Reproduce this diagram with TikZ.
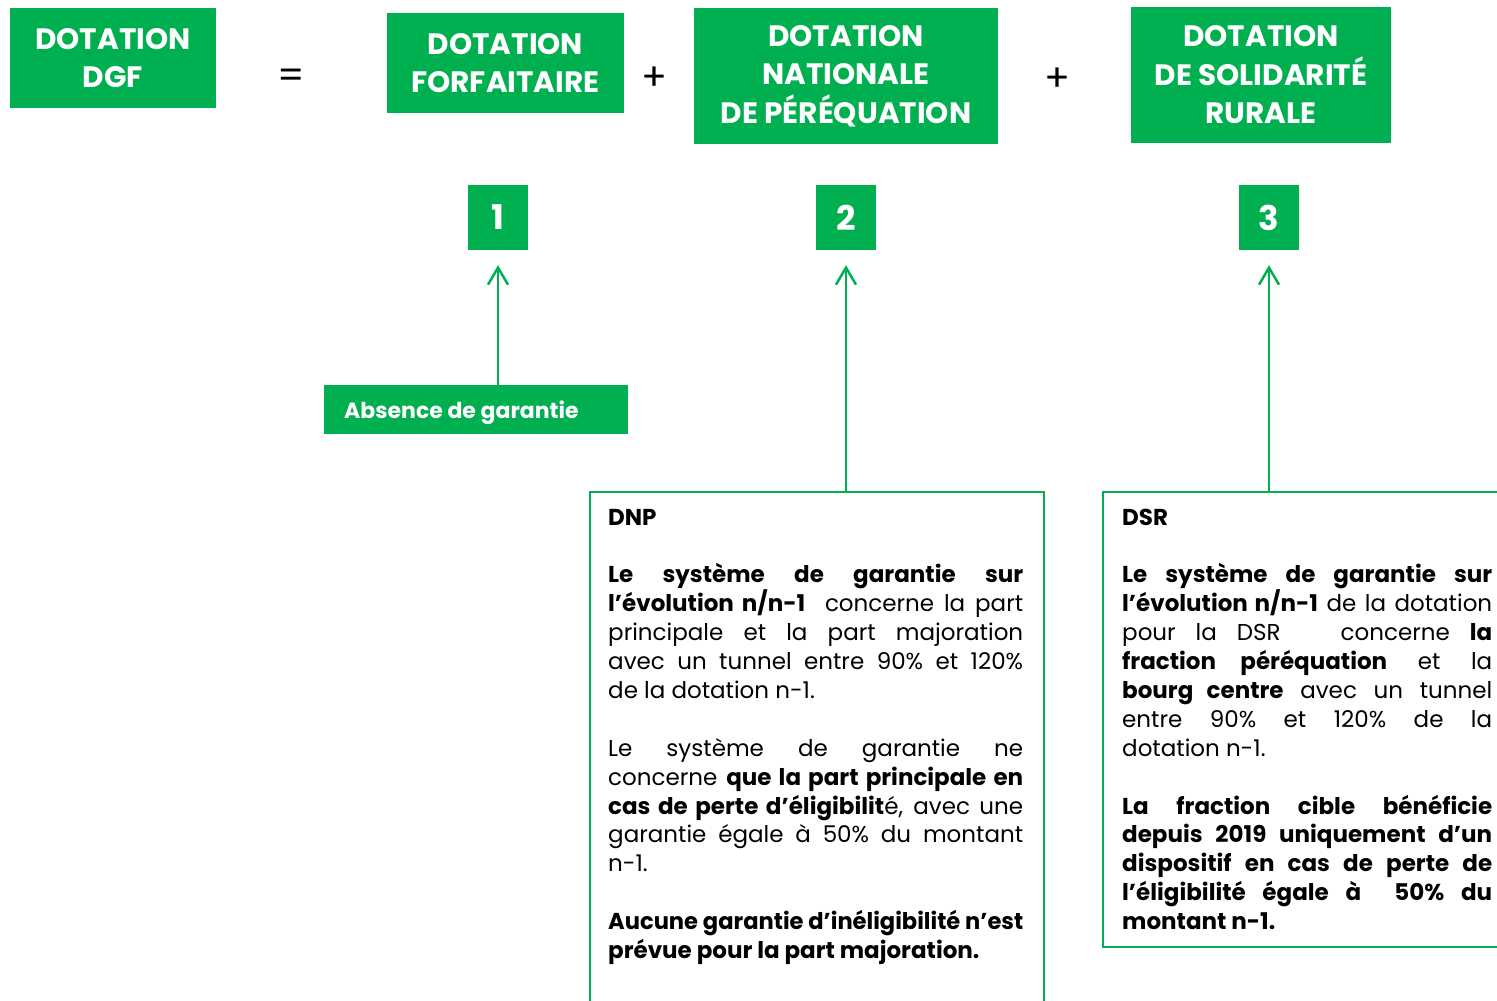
\documentclass[tikz,border=0pt]{standalone}
\usepackage{graphicx}
\usepackage{fontspec}
\setmainfont{Poppins}
\newfontfamily\headfont{Poppins}
\usetikzlibrary{arrows.meta}
\definecolor{vert}{RGB}{0,176,80}
\newsavebox\jlbox
\newcommand\jl[1]{\sbox\jlbox{#1}\ifdim\wd\jlbox>\linewidth\resizebox{\linewidth}{\height}{\usebox\jlbox}\else\makebox[\linewidth][s]{#1}\fi\par}
\newcommand\lastl[1]{\sbox\jlbox{#1}\ifdim\wd\jlbox>\linewidth\resizebox{\linewidth}{\height}{\usebox\jlbox}\else#1\fi\par}
\newcommand\blankl{\mbox{}\par}
\begin{document}
\begin{tikzpicture}[x=1pt,y=-1pt,
 head/.style={fill=vert, text=white, font=\headfont\bfseries\fontsize{29.5}{38.5}\selectfont, align=center, inner sep=0pt},
 num/.style={fill=vert, text=white, font=\bfseries\fontsize{34}{34}\selectfont, minimum width=60pt, minimum height=65pt, inner sep=0pt},
 op/.style={font=\fontsize{38}{38}\selectfont, inner sep=0pt},
 arr/.style={draw=vert, line width=2.5pt, -{Straight Barb[length=17pt,width=20pt]}},
 frame/.style={draw=vert, line width=2pt, inner sep=0pt, anchor=north west},
 body/.style={anchor=base west, inner sep=0pt, font=\fontsize{23}{28.9}\selectfont}
]
\useasboundingbox (0,0) rectangle (1497,1001);

% header boxes
\node[head, minimum width=206pt, minimum height=100pt] (dgf) at (113,58) {DOTATION\\DGF};
\node[op] (eq) at (291,79) {=};
\node[head, minimum width=237pt, minimum height=100pt] (df) at (505.5,63) {DOTATION\\FORFAITAIRE};
\node[op] (p1) at (654,79) {+};
\node[head, minimum width=304pt, minimum height=136pt] (dnp) at (846,76) {DOTATION\\NATIONALE\\DE PÉRÉQUATION};
\node[op] (p2) at (1057,80) {+};
\node[head, minimum width=260pt, minimum height=136pt] (dsr) at (1261,75) {DOTATION\\DE SOLIDARITÉ\\RURALE};

% numbers
\node[num] (n1) at (498,217.5) {1};
\node[num] (n2) at (846,217.5) {2};
\node[num] (n3) at (1269,217.5) {3};

% absence
\node[fill=vert, minimum width=304pt, minimum height=49pt, inner sep=0pt] (abs) at (476,409.5) {};
\node[anchor=base west, inner sep=0pt, text=white, font=\bfseries\fontsize{22}{26}\selectfont] (abstext) at (344,418) {Absence de garantie};

% frames
\node[frame, minimum width=454pt, minimum height=540pt] (dnpbox) at (589,491) {};
\node[frame, minimum width=430pt, minimum height=455pt] (dsrbox) at (1102,491) {};

% arrows
\draw[arr, shorten >=15pt] (n1.south |- abs.north) -- (n1.south);
\draw[arr, shorten >=15pt] (n2.south |- dnpbox.north) -- (n2.south);
\draw[arr, shorten >=15pt] (n3.south |- dsrbox.north) -- (n3.south);

% texts
\node[body] (dnptext) at (608,525) {\parbox[t]{415pt}{%
\lastl{\textbf{DNP}}
\blankl
\jl{\textbf{Le système de garantie sur}}
\jl{\textbf{l’évolution n/n-1}\ \ concerne la part}
\jl{principale et la part majoration}
\jl{avec un tunnel entre 90\% et 120\%}
\lastl{de la dotation n-1.}
\blankl
\jl{Le système de garantie ne}
\jl{concerne \textbf{que la part principale en}}
\jl{\textbf{cas de perte d’éligibilit}é, avec une}
\jl{garantie égale à 50\% du montant}
\lastl{n-1.}
\blankl
\jl{\textbf{Aucune garantie d’inéligibilité n’est}}
\lastl{\textbf{prévue pour la part majoration.}}}};

\node[body] (dsrtext) at (1122,525) {\parbox[t]{370pt}{%
\lastl{\textbf{DSR}}
\blankl
\jl{\textbf{Le système de garantie sur}}
\jl{\textbf{l’évolution n/n-1} de la dotation}
\jl{pour la DSR\ \ \ concerne \textbf{la}}
\jl{\textbf{fraction péréquation} et la}
\jl{\textbf{bourg centre} avec un tunnel}
\jl{entre 90\% et 120\% de la}
\lastl{dotation n-1.}
\blankl
\jl{\textbf{La fraction cible bénéficie}}
\jl{\textbf{depuis 2019 uniquement d’un}}
\jl{\textbf{dispositif en cas de perte de}}
\jl{\textbf{l’éligibilité égale à\ \ 50\% du}}
\lastl{\textbf{montant n-1.}}}};
\end{tikzpicture}
\end{document}
